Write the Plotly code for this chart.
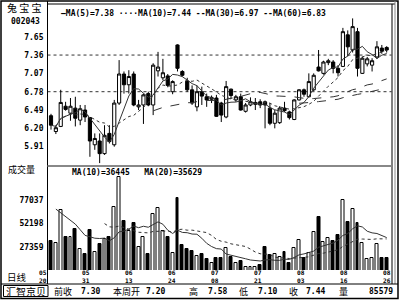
import plotly.graph_objects as go
import pandas as pd

W, H = 400, 300

stock_name = "兔 宝 宝"
stock_code = "002043"

opens = [6.40, 6.15, 6.23, 6.55, 6.44, 6.52, 6.33, 6.49, 6.37, 5.94,
         6.00, 5.80, 6.12, 5.94, 6.60, 7.06, 6.89, 7.06, 6.54, 6.57,
         6.75, 6.57, 7.11, 7.00, 7.03, 6.78, 7.52, 7.10, 6.95, 6.81,
         6.54, 6.78, 6.70, 6.66, 6.68, 6.60, 6.38, 6.82, 6.65, 6.70,
         6.47, 6.57, 6.58, 6.62, 6.62, 6.52, 6.28, 6.29, 6.52, 6.46,
         6.34, 6.65, 6.81, 6.70, 6.81, 7.17, 7.07, 7.24, 7.25, 7.15,
         7.18, 7.68, 7.44, 7.73, 7.07, 7.22, 7.20, 7.33, 7.47, 7.48]
highs = [6.43, 6.25, 6.81, 6.62, 6.68, 6.70, 6.57, 6.57, 6.38, 6.12,
         6.12, 6.25, 6.25, 6.65, 7.28, 7.10, 7.12, 7.10, 6.65, 6.75,
         6.78, 7.23, 7.41, 7.30, 7.06, 6.96, 7.53, 7.12, 7.00, 6.88,
         6.88, 6.86, 6.75, 6.72, 6.73, 6.62, 6.95, 6.83, 6.73, 6.75,
         6.60, 6.69, 6.68, 6.66, 6.64, 6.60, 6.49, 6.55, 6.62, 6.48,
         6.66, 6.82, 6.83, 7.07, 7.07, 7.44, 7.27, 7.30, 7.28, 7.20,
         7.79, 7.75, 7.94, 7.79, 7.33, 7.33, 7.31, 7.58, 7.52, 7.50]
lows = [6.18, 6.11, 6.22, 6.48, 6.32, 6.23, 6.25, 6.30, 5.75, 5.86,
        5.65, 5.78, 5.96, 5.91, 6.57, 6.75, 6.75, 6.55, 6.49, 6.27,
        6.55, 6.41, 7.02, 6.96, 6.85, 6.74, 7.10, 7.02, 6.78, 6.57,
        6.47, 6.57, 6.54, 6.60, 6.38, 6.30, 6.36, 6.67, 6.62, 6.48,
        6.45, 6.55, 6.49, 6.52, 6.20, 6.25, 6.20, 6.27, 6.46, 6.34,
        6.33, 6.64, 6.70, 6.69, 6.79, 7.10, 7.05, 7.20, 7.07, 7.02,
        7.17, 7.34, 7.40, 7.02, 7.06, 7.18, 7.10, 7.30, 7.38, 7.40]
closes = [6.25, 6.21, 6.61, 6.50, 6.55, 6.36, 6.51, 6.38, 6.00, 6.04,
          5.80, 6.09, 5.99, 6.60, 7.06, 6.89, 7.02, 6.57, 6.57, 6.73,
          6.57, 7.20, 7.17, 7.08, 6.88, 6.94, 7.15, 7.04, 6.81, 6.60,
          6.78, 6.71, 6.65, 6.69, 6.39, 6.41, 6.86, 6.72, 6.70, 6.49,
          6.57, 6.62, 6.61, 6.57, 6.57, 6.28, 6.44, 6.52, 6.48, 6.37,
          6.65, 6.81, 6.74, 6.94, 7.04, 7.11, 7.25, 7.27, 7.15, 7.08,
          7.73, 7.49, 7.81, 7.15, 7.31, 7.30, 7.27, 7.49, 7.42, 7.44]
volumes = [33400, 31600, 66000, 37400, 38000, 46200, 24600, 19600, 45100, 22000,
           30200, 35600, 37400, 69900, 101200, 54700, 44400, 52900, 27400, 37400,
           19600, 62100, 68200, 44400, 38000, 20300, 78800, 29200, 24600, 23100,
           17500, 19300, 14300, 10300, 15700, 15700, 25700, 16700, 9700, 12500,
           5400, 6100, 6100, 7900, 26700, 18500, 19300, 16100, 22000, 10300,
           26000, 34500, 15700, 21000, 43300, 59300, 32400, 36900, 33700, 39800,
           77000, 54000, 67100, 52300, 31000, 13900, 15000, 30200, 15000, 15000]
# trading days before the first visible candle (listing days), estimated from the MA lines
pre_window_volume = [106000, 77400, 78000, 86200, 84600, 79600, 60100, 37000]

price_ticks = [7.65, 7.36, 7.07, 6.78, 6.49, 6.20, 5.91]
price_grid = [7.36, 6.78]
volume_ticks = [77037, 52198, 27359]

date_pos = [-1.65, 7.2, 16.0, 24.85, 33.7, 42.55, 51.4, 60.25, 69.1]
date_month = ["05", "05", "06", "06", "07", "07", "08", "08", "08"]
date_day = ["20", "31", "13", "24", "08", "21", "03", "16", "26"]

ma_periods = [5, 10, 30, 60]
ma_dash = ["solid", "dot", "dash", "dash"]
ma_marks = ["—", "····", "--", "--"]
ma_last = ["7.38", "7.44", "6.97", "6.83"]
vol_ma_periods = [10, 20]
vol_ma_dash = ["solid", "dot"]
vol_ma_last = ["36445", "35629"]

info_labels = ["前收", "本周开", "高", "低", "收", "量"]
info_label_x = [53, 112, 188, 238, 288, 338]
info_values = ["7.30", "7.20", "7.58", "7.10", "7.44", "85579"]
info_value_x = [101, 166, 228, 278, 326, 394]

MONO = "DejaVu Sans Mono"
CJK = "Noto Sans CJK SC"


def px(x):
    return x / W


def py(y):
    return 1 - y / H


n = len(closes)
xs = list(range(n))
pre = len(pre_window_volume)
up = [c > o for o, c in zip(opens, closes)]

PLOT_L, PLOT_R = 47.5, 391.5
XR = [-0.72, 69.99]


def idx_to_px(v):
    return PLOT_L + (v - XR[0]) / (XR[1] - XR[0]) * (PLOT_R - PLOT_L)


fig = go.Figure()

fig.add_trace(go.Candlestick(
    x=xs, open=opens, high=highs, low=lows, close=closes,
    xaxis="x", yaxis="y", whiskerwidth=0, hoverinfo="skip",
    increasing=dict(line=dict(color="#000", width=1), fillcolor="#fff"),
    decreasing=dict(line=dict(color="#000", width=1), fillcolor="#000"),
))

cs = pd.Series(closes)
for p, d in zip(ma_periods, ma_dash):
    ma = cs.rolling(p, min_periods=1).mean()
    start = max(0, p - 1 - pre)
    fig.add_trace(go.Scatter(
        x=xs[start:], y=list(ma[start:]), mode="lines", xaxis="x", yaxis="y",
        line=dict(color="#333", width=1, dash=d), hoverinfo="skip"))

fig.add_trace(go.Bar(
    x=xs, y=volumes, xaxis="x2", yaxis="y2", width=0.6,
    marker=dict(color=["#fff" if u else "#000" for u in up],
                line=dict(color="#000", width=1)),
    hoverinfo="skip"))

vs = pd.Series(pre_window_volume + volumes)
for p, d in zip(vol_ma_periods, vol_ma_dash):
    ma = vs.rolling(p).mean()[pre:]
    fig.add_trace(go.Scatter(
        x=xs, y=list(ma), mode="lines", xaxis="x2", yaxis="y2",
        line=dict(color="#333", width=1, dash=d), hoverinfo="skip"))

shapes = []


def line(x0, y0, x1, y1, color="#000", w=1, dash="solid"):
    shapes.append(dict(type="line", xref="paper", yref="paper",
                       x0=px(x0), y0=py(y0), x1=px(x1), y1=py(y1),
                       line=dict(color=color, width=w, dash=dash)))


# frame
shapes.append(dict(type="rect", xref="paper", yref="paper", x0=px(1), y0=py(298.5),
                   x1=px(398), y1=py(1), line=dict(color="#000", width=1.5)))
line(PLOT_L, 1, PLOT_L, 284)
line(392, 4, 392, 284)
line(PLOT_L, 4, 395, 4)
line(395, 1, 395, 284, color="#888", w=1)
line(PLOT_L, 166, PLOT_R, 166, color="#888", w=2)
line(1, 284, 398, 284)
shapes.append(dict(type="rect", xref="paper", yref="paper", x0=px(3.5), y0=py(296.5),
                   x1=px(48), y1=py(285.5), line=dict(color="#000", width=1)))
for g in price_grid:
    shapes.append(dict(type="line", xref="paper", yref="y", x0=px(PLOT_L), x1=px(PLOT_R),
                       y0=g, y1=g, layer="below", line=dict(color="#333", width=1, dash="dot")))

ann = []


def text(x, y, s, size=8, family=MONO, anchor="left", bold=True):
    ann.append(dict(x=px(x), y=py(y), xref="paper", yref="paper",
                    text=s, showarrow=False, xanchor=anchor, yanchor="middle",
                    font=dict(family=family, size=size, color="#000",
                              weight="bold" if bold else "normal"),
                    borderpad=0))


text(24, 8, stock_name, size=10, family=CJK, anchor="center", bold=False)
text(25, 21.5, stock_code, size=8, anchor="center")
ma_header = " ".join(f"{m}MA({p})={v}" for m, p, v in zip(ma_marks, ma_periods, ma_last))
text(60, 14, ma_header, size=8)
vol_header = "   ".join(f"MA({p})={v}" for p, v in zip(vol_ma_periods, vol_ma_last))
text(71, 172, vol_header, size=8)
text(21, 169, "成交量", size=9, family=CJK, anchor="center", bold=False)
text(17, 277, "日线", size=9.5, family=CJK, anchor="center", bold=False)
for p, m, d in zip(date_pos, date_month, date_day):
    text(idx_to_px(p), 276.8, f"{m}<br>{d}", size=6.2, anchor="center")
text(25.5, 291, "汇智京贝", size=10, family=CJK, anchor="center", bold=False)
for s, x in zip(info_labels, info_label_x):
    text(x, 291, s, size=9, family=CJK, bold=False)
for s, x in zip(info_values, info_value_x):
    text(x, 291, s, size=8, anchor="right")

axis_common = dict(showgrid=False, zeroline=False, showline=False, fixedrange=True)
tickfont = dict(family=MONO, size=8, color="#000", weight="bold")

fig.update_layout(
    width=W, height=H, margin=dict(l=0, r=0, t=0, b=0),
    paper_bgcolor="#fff", plot_bgcolor="#fff", showlegend=False,
    boxgap=0.35, boxgroupgap=0, bargap=0,
    xaxis=dict(domain=[px(PLOT_L), px(PLOT_R)], range=XR, anchor="y",
               showticklabels=False, rangeslider=dict(visible=False), **axis_common),
    xaxis2=dict(domain=[px(PLOT_L), px(PLOT_R)], range=XR, anchor="y2",
                showticklabels=False, **axis_common),
    yaxis=dict(domain=[py(165), py(5)], range=[5.620, 8.152], anchor="x",
               tickvals=price_ticks, ticktext=[f"{v:.2f}" for v in price_ticks],
               ticks="", ticklabelstandoff=3, tickfont=tickfont, **axis_common),
    yaxis2=dict(domain=[py(270), py(167)], range=[2572, 112144], anchor="x2",
                tickvals=volume_ticks, ticktext=[str(v) for v in volume_ticks],
                ticks="", ticklabelstandoff=3, tickfont=tickfont, **axis_common),
    shapes=shapes, annotations=ann,
)

fig.write_html("out.html")
